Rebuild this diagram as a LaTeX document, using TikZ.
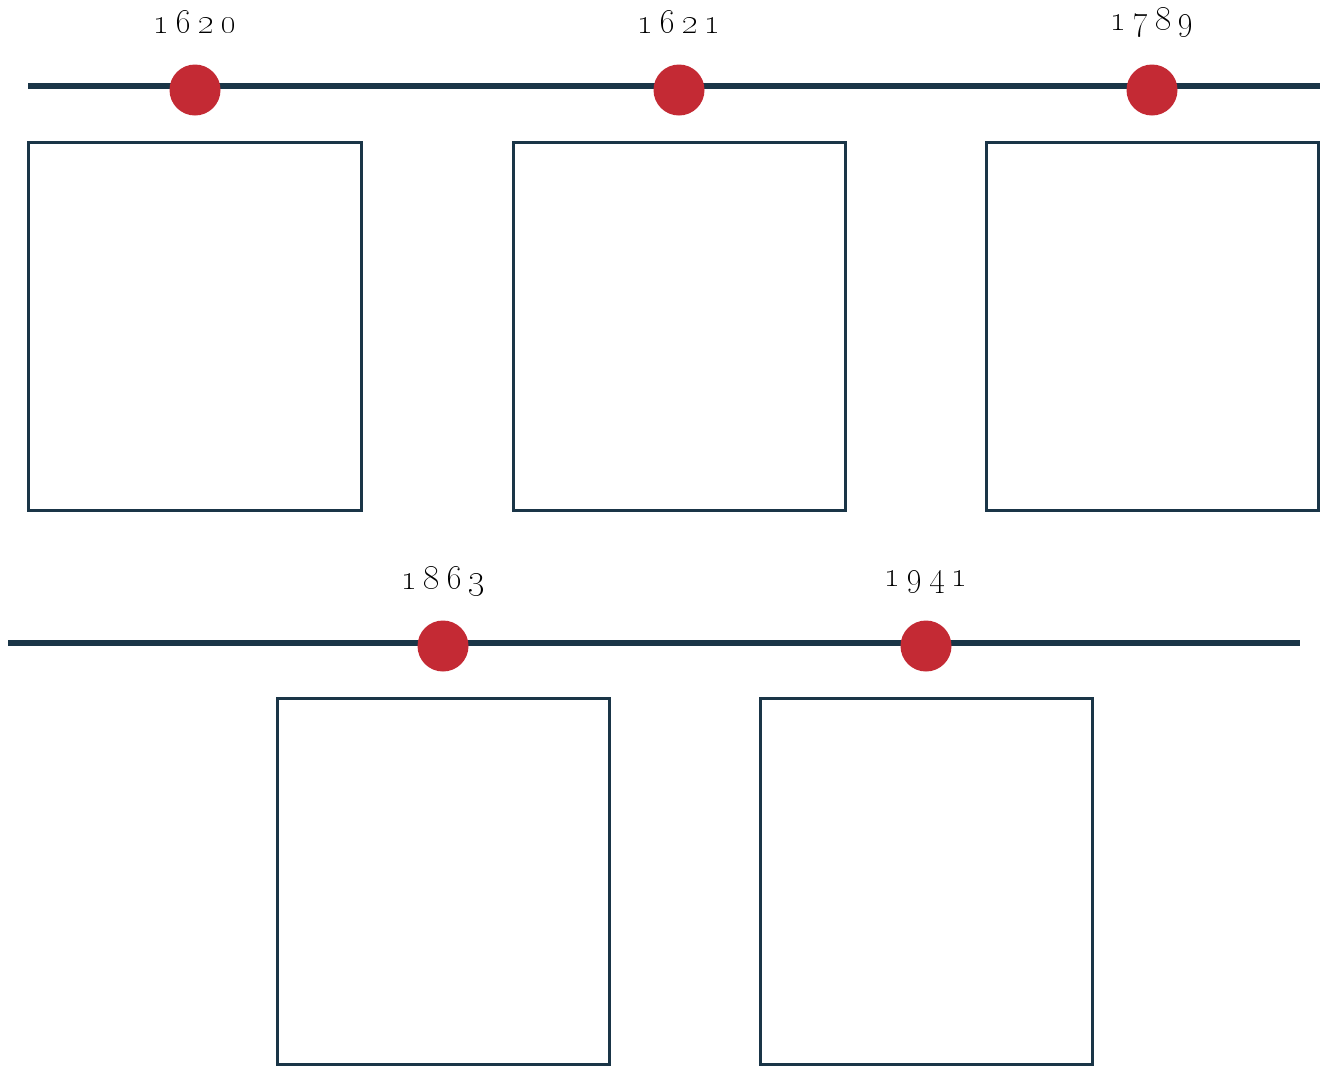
\documentclass[tikz,border=0pt]{standalone}
\usepackage{tikz}
\definecolor{navy}{HTML}{1A3547}
\definecolor{dotred}{HTML}{C42A34}
\newcommand\yrdigits[4]{\oldstylenums{#1}\hspace{0.2em}\oldstylenums{#2}\hspace{0.2em}\oldstylenums{#3}\hspace{0.2em}\oldstylenums{#4}}
\tikzset{
  tline/.style={draw=navy, line width=5.5pt},
  dot/.style={circle, fill=dotred, minimum size=51pt, inner sep=0pt},
  panel/.style={draw=navy, line width=3pt, fill=white},
  yearlbl/.style={font=\fontsize{33}{36}\selectfont, text=black, inner sep=0pt}
}
\begin{document}
\begin{tikzpicture}[x=1pt,y=-1pt]
\useasboundingbox[fill=white] (0,0) rectangle (1321,1066);
% top timeline
\coordinate (t0) at (28,86);
\coordinate (t1) at (1320,86);
\draw[tline] (t0) -- (t1);
\node[dot] (d1) at (195,90) {};
\node[dot] (d2) at (679,90) {};
\node[dot] (d3) at (1152,90) {};
\node[yearlbl] (y1) at (195,22) {\yrdigits1620};
\node[yearlbl] (y2) at (679,22) {\yrdigits1621};
\node[yearlbl] (y3) at (1152,22) {\yrdigits1789};
\draw[panel] (28,142) rectangle (361,510);
\draw[panel] (513,142) rectangle (845,510);
\draw[panel] (986,142) rectangle (1318,510);
% bottom timeline
\coordinate (b0) at (8,643);
\coordinate (b1) at (1300,643);
\draw[tline] (b0) -- (b1);
\node[dot] (d4) at (443,646) {};
\node[dot] (d5) at (926,646) {};
\node[yearlbl] (y4) at (443,581) {\yrdigits1863};
\node[yearlbl] (y5) at (926,582) {\yrdigits1941};
\draw[panel] (277,698) rectangle (609,1064);
\draw[panel] (760,698) rectangle (1092,1064);
\end{tikzpicture}
\end{document}
